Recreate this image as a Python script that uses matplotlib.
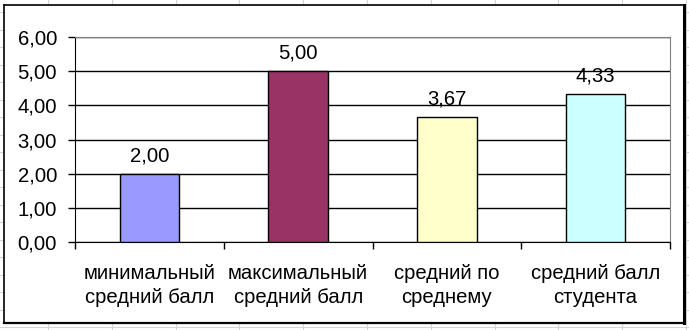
import matplotlib
matplotlib.use('Agg')
import matplotlib.pyplot as plt
from matplotlib.lines import Line2D
import numpy as np

plt.rcParams['font.family'] = ['Liberation Sans', 'DejaVu Sans']

##! Data
categories = ['минимальный\nсредний балл', 'максимальный\nсредний балл',
              'средний по\nсреднему', 'средний балл\nстудента']
values     = [2.00, 5.00, 3.67, 4.33]
colours    = ['#9999FF', '#993366', '#FFFFCC', '#CCFFFF']
yticks     = [0, 1, 2, 3, 4, 5, 6]

W, H = 689, 330
FS = 14.6
fig = plt.figure(figsize=(W/100., H/100.), dpi=100)
fig.patch.set_facecolor('white')

#.. spreadsheet cells behind the chart
for xc in np.arange(48, W, 63.8):
    fig.add_artist(Line2D([xc/W, xc/W], [0, 1], color='#D4D4D4', lw=0.8,
                          zorder=-10))
for yc in np.arange(12, H, 17.5):
    fig.add_artist(Line2D([0, 1], [1-yc/H, 1-yc/H], color='#D4D4D4', lw=0.8,
                          zorder=-10))

#.. chart area frame
frame = fig.add_axes([4/W, 1-323/H, 680/W, 318/H])
frame.set_facecolor('white')
frame.set_zorder(0)
frame.set_xticks([]); frame.set_yticks([])
for s in frame.spines.values():
    s.set_color('black'); s.set_linewidth(1.2)
frame.spines['right'].set_linewidth(2.2)
frame.spines['bottom'].set_linewidth(1.6)

ax = fig.add_axes([75/W, 1-242/H, 595/W, 205/H])
ax.set_zorder(1)
ax.set_facecolor('white')
x = np.arange(len(values))
ax.bar(x, values, width=0.4, color=colours, edgecolor='black', lw=1, zorder=3)
for xi, v in zip(x, values):
    ax.annotate(('%.2f' % v).replace('.', ','), (xi, v), xytext=(0, 6),
                textcoords='offset points', ha='center', va='bottom', fontsize=FS)

ax.set_xlim(-0.5, len(values)-0.5)
ax.set_ylim(0, 6)
ax.set_yticks(yticks)
ax.set_yticklabels([('%.2f' % t).replace('.', ',') for t in yticks], fontsize=FS)
ax.yaxis.grid(True, color='black', lw=1, zorder=0)
ax.tick_params(axis='y', length=5, width=1, pad=8)

ax.set_xticks(x)
ax.set_xticklabels(categories, fontsize=FS, linespacing=1.35)
ax.tick_params(axis='x', which='major', length=0, pad=16)
ax.set_xticks(np.arange(-0.5, len(values), 1), minor=True)
ax.tick_params(axis='x', which='minor', length=5, width=1, direction='out')

ax.spines['left'].set_color('black')
ax.spines['bottom'].set_color('black')
ax.spines['top'].set_color('#808080')
ax.spines['right'].set_color('#808080')

plt.savefig('out.png', dpi=100)
